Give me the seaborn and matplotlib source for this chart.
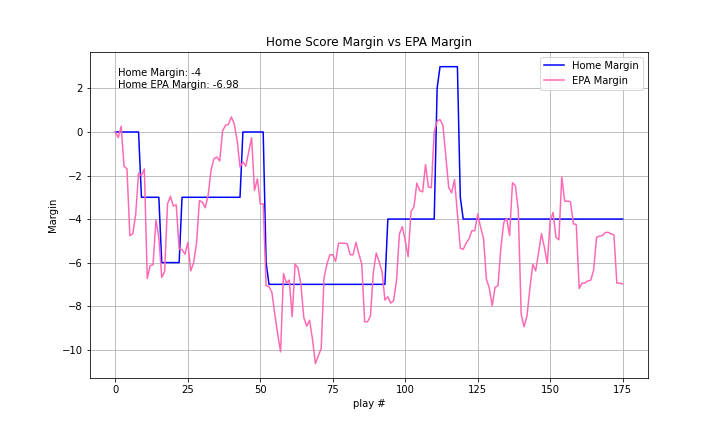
import matplotlib
matplotlib.use("Agg")
import matplotlib.pyplot as plt
import seaborn as sns
import pandas as pd

# home score margin after each play
home_margin = [
    0, 0, 0, 0, 0, 0, 0, 0, 0,
    -3, -3, -3, -3, -3, -3, -3,
    -6, -6, -6, -6, -6, -6, -6,
    -3, -3, -3, -3, -3, -3, -3, -3, -3, -3, -3, -3, -3, -3, -3, -3, -3, -3, -3, -3, -3,
    0, 0, 0, 0, 0, 0, 0, 0,
    -6,
    -7, -7, -7, -7, -7, -7, -7, -7, -7, -7, -7, -7, -7, -7, -7, -7, -7, -7, -7, -7,
    -7, -7, -7, -7, -7, -7, -7, -7, -7, -7, -7, -7, -7, -7, -7, -7, -7, -7, -7, -7,
    -7,
    -4, -4, -4, -4, -4, -4, -4, -4, -4, -4, -4, -4, -4, -4, -4, -4, -4,
    2,
    3, 3, 3, 3, 3, 3, 3,
    -3,
    -4, -4, -4, -4, -4, -4, -4, -4, -4, -4, -4, -4, -4, -4, -4, -4, -4, -4, -4, -4,
    -4, -4, -4, -4, -4, -4, -4, -4, -4, -4, -4, -4, -4, -4, -4, -4, -4, -4, -4, -4,
    -4, -4, -4, -4, -4, -4, -4, -4, -4, -4, -4, -4, -4, -4, -4, -4,
]

# cumulative EPA margin after each play
epa_margin = [
    0.0, -0.26, 0.26, -1.58, -1.69, -4.76, -4.68, -3.8, -1.9, -2.0,
    -1.7, -6.73, -6.14, -6.1, -4.04, -4.84, -6.68, -6.4, -3.3, -2.96,
    -3.4, -3.35, -5.37, -5.4, -5.62, -5.08, -6.38, -6.0, -5.1, -3.15,
    -3.22, -3.48, -2.92, -1.76, -1.23, -1.15, -1.33, 0.05, 0.31, 0.35,
    0.69, 0.38, -0.38, -1.61, -1.38, -1.57, -0.92, -0.26, -2.69, -2.15,
    -3.3, -3.3, -7.06, -7.1, -7.37, -8.37, -9.29, -10.1, -6.5, -6.94,
    -6.8, -8.49, -6.07, -6.25, -7.0, -8.52, -8.92, -8.65, -9.52, -10.64,
    -10.29, -9.95, -6.68, -6.07, -5.64, -5.64, -5.94, -5.11, -5.11, -5.11,
    -5.14, -5.64, -5.64, -5.07, -5.6, -6.07, -8.72, -8.72, -8.45, -6.45,
    -5.56, -5.96, -6.42, -7.72, -7.57, -7.86, -7.75, -6.8, -4.68, -4.35,
    -4.99, -5.73, -3.64, -3.45, -2.35, -2.69, -2.75, -1.5, -2.53, -2.56,
    0.0, 0.5, 0.57, 0.31, -1.12, -2.55, -2.8, -2.18, -3.76, -5.34,
    -5.39, -5.11, -4.91, -4.54, -4.53, -3.76, -4.38, -4.88, -6.76, -7.17,
    -7.98, -7.14, -7.06, -5.3, -4.15, -3.97, -4.76, -2.33, -2.47, -3.6,
    -8.37, -8.95, -8.45, -7.18, -6.08, -6.38, -5.55, -4.67, -5.3, -6.04,
    -4.07, -3.7, -4.84, -4.95, -2.07, -3.18, -3.18, -3.2, -4.22, -4.25,
    -7.19, -6.94, -6.94, -6.84, -6.81, -6.34, -4.84, -4.78, -4.76, -4.62,
    -4.61, -4.68, -4.73, -6.94, -6.94, -6.98,
]

plays = list(range(len(epa_margin)))

df = pd.DataFrame({"play": plays, "home": home_margin, "epa": epa_margin})

fig, ax = plt.subplots(figsize=(10, 6), dpi=72)
fig.subplots_adjust(left=0.125, right=0.9, top=0.88, bottom=0.124)

sns.lineplot(data=df, x="play", y="home", color="blue", label="Home Margin", ax=ax)
sns.lineplot(data=df, x="play", y="epa", color="hotpink", label="EPA Margin", ax=ax)

ax.text(0.05, 0.95,
        f"Home Margin: {home_margin[-1]}\nHome EPA Margin: {epa_margin[-1]}",
        transform=ax.transAxes, va="top")

ax.set_title("Home Score Margin vs EPA Margin")
ax.set_xlabel("play #")
ax.set_ylabel("Margin")
ax.set_xticks([0, 25, 50, 75, 100, 125, 150, 175])
ax.grid(True)
ax.legend(loc="upper right")

plt.savefig("out.png", dpi=72)
